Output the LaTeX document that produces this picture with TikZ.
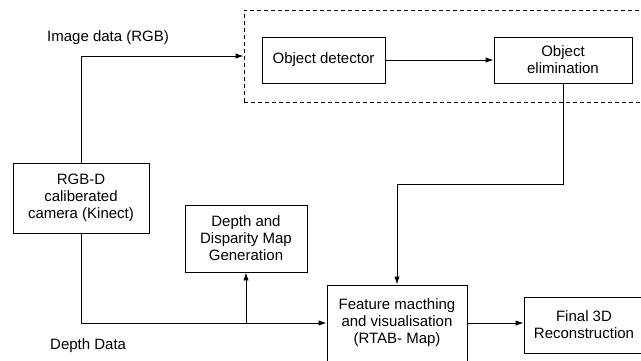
\documentclass[tikz,border=0pt]{standalone}
\usepackage{fontspec}
\setmainfont{Liberation Sans}
\usetikzlibrary{arrows.meta}
\begin{document}
\begin{tikzpicture}[x=1pt,y=-1pt,
  every node/.style={font=\fontsize{15}{17}\selectfont, inner sep=0pt},
  blockbox/.style={draw, line width=0.95pt, align=center},
  groupbox/.style={draw, line width=0.9pt, dash pattern=on 4pt off 3pt},
  flow/.style={line width=0.95pt, -{Latex[length=8pt,width=5.5pt]}},
  lbl/.style={anchor=west}]
\useasboundingbox (0,0) rectangle (641,360);
\clip (0,0) rectangle (641,360);

% dashed group around detection stage
\node[groupbox, minimum width=400pt, minimum height=92pt] (grp) at (444,56) {};

% processing blocks
\node[blockbox, minimum width=123pt, minimum height=46pt] (det) at (323.5,60) {Object detector};
\node[blockbox, minimum width=138pt, minimum height=46pt] (elim) at (563,60) {Object\\elimination};
\node[blockbox, minimum width=136pt, minimum height=70pt] (cam) at (81,198) {RGB-D\\caliberated\\camera (Kinect)};
\node[blockbox, minimum width=122pt, minimum height=67pt] (depth) at (246,238.5) {Depth and\\Disparity Map\\Generation};
\node[blockbox, minimum width=140pt, minimum height=76pt] (feat) at (397,323) {Feature macthing\\and visualisation\\(RTAB- Map)};
\node[blockbox, minimum width=120pt, minimum height=56pt] (final) at (584,325) {Final 3D\\Reconstruction};

% labels
\node[lbl] (lrgb) at (47,38) {Image data (RGB)};
\node[lbl] (ldepth) at (50,346) {Depth Data};

% connectors
\draw[flow] (cam.north) |- (grp.west);
\draw[flow] (det.east) -- (elim.west |- det.east);
\draw[flow] (elim.south) -- ++(0,101) -| (feat.north);
\draw[flow] (cam.south) |- (feat.west);
\coordinate (br) at (depth.south |- feat.west);
\draw[flow] (br) -- (depth.south);
\draw[flow] (feat.east) -- (feat.east -| final.west);
\end{tikzpicture}
\end{document}
